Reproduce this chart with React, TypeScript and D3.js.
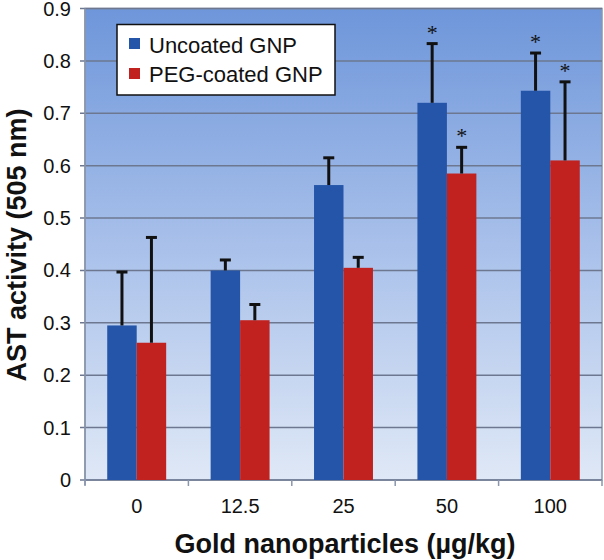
import React from "react";
import * as d3 from "d3";

const categories = ["0", "12.5", "25", "50", "100"];
const seriesNames = ["Uncoated GNP", "PEG-coated GNP"];
const uncoated = [0.295, 0.4, 0.563, 0.72, 0.743];
const uncoatedErr = [0.102, 0.02, 0.052, 0.113, 0.072];
const pegCoated = [0.262, 0.305, 0.405, 0.585, 0.61];
const pegCoatedErr = [0.201, 0.03, 0.02, 0.05, 0.15];
const uncoatedSig = [false, false, false, true, true];
const pegSig = [false, false, false, true, true];
const yTicks = [0, 0.1, 0.2, 0.3, 0.4, 0.5, 0.6, 0.7, 0.8, 0.9];
const colors = ["#2455a9", "#c1221f"];

export default function App() {
  const W = 604, H = 560;
  const left = 85, right = 602, top = 8.5, bottom = 480;
  const x = d3.scaleBand().domain(categories).range([left, right]).paddingInner(0).paddingOuter(0);
  const y = d3.scaleLinear().domain([0, 0.9]).range([bottom, top]);
  const bw = x.bandwidth();
  const barW = bw * 0.285;
  const series = [
    { vals: uncoated, err: uncoatedErr, sig: uncoatedSig },
    { vals: pegCoated, err: pegCoatedErr, sig: pegSig },
  ];
  const font = "Arial, 'Liberation Sans', sans-serif";
  return (
    <svg width={W} height={H} style={{ position: "absolute", left: 0, top: 0, background: "#fff" }} fontFamily={font}>
      <defs>
        <linearGradient id="bg" x1="0" y1="0" x2="0" y2="1">
          <stop offset="0" stopColor="#6e96da" />
          <stop offset="0.5" stopColor="#a8c0ea" />
          <stop offset="1" stopColor="#dfe8f6" />
        </linearGradient>
      </defs>
      <rect x={left} y={top} width={right - left} height={bottom - top} fill="url(#bg)" stroke="#8a96ac" strokeWidth={1.5} />
      {yTicks.map((t) => (
        <g key={t}>
          <line x1={left - 5} x2={right} y1={y(t)} y2={y(t)} stroke="#6d7890" strokeWidth={1.5} />
          <text x={left - 14} y={y(t) + 7} textAnchor="end" fontSize={20} fill="#111">{t === 0 ? "0" : t.toFixed(1)}</text>
        </g>
      ))}
      <line x1={left} x2={left} y1={top} y2={bottom + 5} stroke="#8a96ac" strokeWidth={1.5} />
      {d3.range(categories.length + 1).map((i) => (
        <line key={i} x1={left + i * bw} x2={left + i * bw} y1={bottom} y2={bottom + 6} stroke="#8a96ac" strokeWidth={1.5} />
      ))}
      {categories.map((c, ci) => {
        const cx = (x(c) as number) + bw / 2;
        return (
          <g key={c}>
            {series.map((s, si) => {
              const bx = cx - barW + si * barW;
              const v = s.vals[ci];
              const e = v + s.err[ci];
              const ex = bx + barW / 2;
              return (
                <g key={si}>
                  <rect x={bx} y={y(v)} width={barW} height={bottom - y(v)} fill={colors[si]} />
                  <line x1={ex} x2={ex} y1={y(v)} y2={y(e)} stroke="#111" strokeWidth={3} />
                  <line x1={ex - 5.5} x2={ex + 5.5} y1={y(e)} y2={y(e)} stroke="#111" strokeWidth={3} />
                  {s.sig[ci] && (
                    <text x={ex} y={y(e) - 4} textAnchor="middle" fontSize={22} fontFamily="'Liberation Serif', 'DejaVu Serif', serif" fill="#111">*</text>
                  )}
                </g>
              );
            })}
            <text x={cx} y={513} textAnchor="middle" fontSize={20} fill="#111">{c}</text>
          </g>
        );
      })}
      <g>
        <rect x={117} y={24.5} width={218} height={70.5} fill="#fff" stroke="#111" strokeWidth={1.5} />
        {seriesNames.map((n, i) => (
          <g key={n}>
            <rect x={129} y={38 + i * 30} width={11} height={11} fill={colors[i]} />
            <text x={149} y={52.5 + i * 29} fontSize={22} fill="#111">{n}</text>
          </g>
        ))}
      </g>
      <text x={345} y={553} textAnchor="middle" fontSize={27} fontWeight="bold" fill="#111">Gold nanoparticles (µg/kg)</text>
      <text transform={`translate(26,${245}) rotate(-90)`} textAnchor="middle" fontSize={27} fontWeight="bold" fill="#111">AST activity (505 nm)</text>
    </svg>
  );
}
